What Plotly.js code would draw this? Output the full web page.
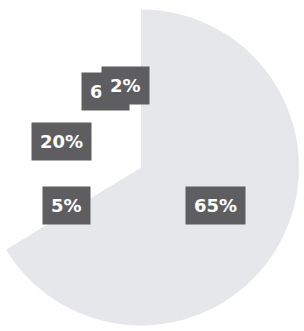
<!DOCTYPE html>
<html>
<head>
<meta charset="utf-8">
<script src="https://cdn.plot.ly/plotly-3.0.1.min.js"></script>
<style>
html,body{margin:0;padding:0;overflow:hidden;background:#fff;width:304px;height:331px;}
#chart{position:absolute;left:-17px;top:0;width:316px;height:335px;}
</style>
</head>
<body>
<div id="chart"></div>
<script>
const labels = ["A", "B", "C", "D", "E"];
const values = [65, 5, 20, 6, 2];
const texts = ["65%", "5%", "20%", "6%", "2%"];
const colors = ["#e6e7ea", "#ffffff", "#ffffff", "#ffffff", "#ffffff"];

const W = 316, H = 335;
const R = Math.min(W, H) / 2;
const labelR = 0.53;

// label angles follow the printed percentages (out of 100)
const annotations = [];
let cum = 0;
values.forEach((v, i) => {
  const mid = (cum + v / 2) / 100 * 2 * Math.PI;
  cum += v;
  const dx = labelR * R * Math.sin(mid);
  const dy = labelR * R * Math.cos(mid);
  annotations.push({
    xref: "paper", yref: "paper",
    x: 0.5 + dx / W, y: 0.5 + dy / H,
    text: "<b>" + texts[i] + "</b>",
    showarrow: false,
    font: {family: "DejaVu Sans, Arial, sans-serif", size: 18, color: "#ffffff"},
    bgcolor: "#5e5e60",
    borderpad: 8,
    xanchor: "center", yanchor: "middle"
  });
});

const data = [{
  type: "pie",
  labels: labels,
  values: values,
  sort: false,
  direction: "clockwise",
  rotation: 0,
  marker: {colors: colors, line: {width: 0}},
  textinfo: "none",
  hoverinfo: "none",
  showlegend: false
}];

const layout = {
  width: W, height: H,
  margin: {l: 0, r: 0, t: 0, b: 0},
  paper_bgcolor: "rgba(0,0,0,0)",
  plot_bgcolor: "rgba(0,0,0,0)",
  showlegend: false,
  annotations: annotations
};

Plotly.newPlot("chart", data, layout, {displayModeBar: false, staticPlot: true});
</script>
</body>
</html>
